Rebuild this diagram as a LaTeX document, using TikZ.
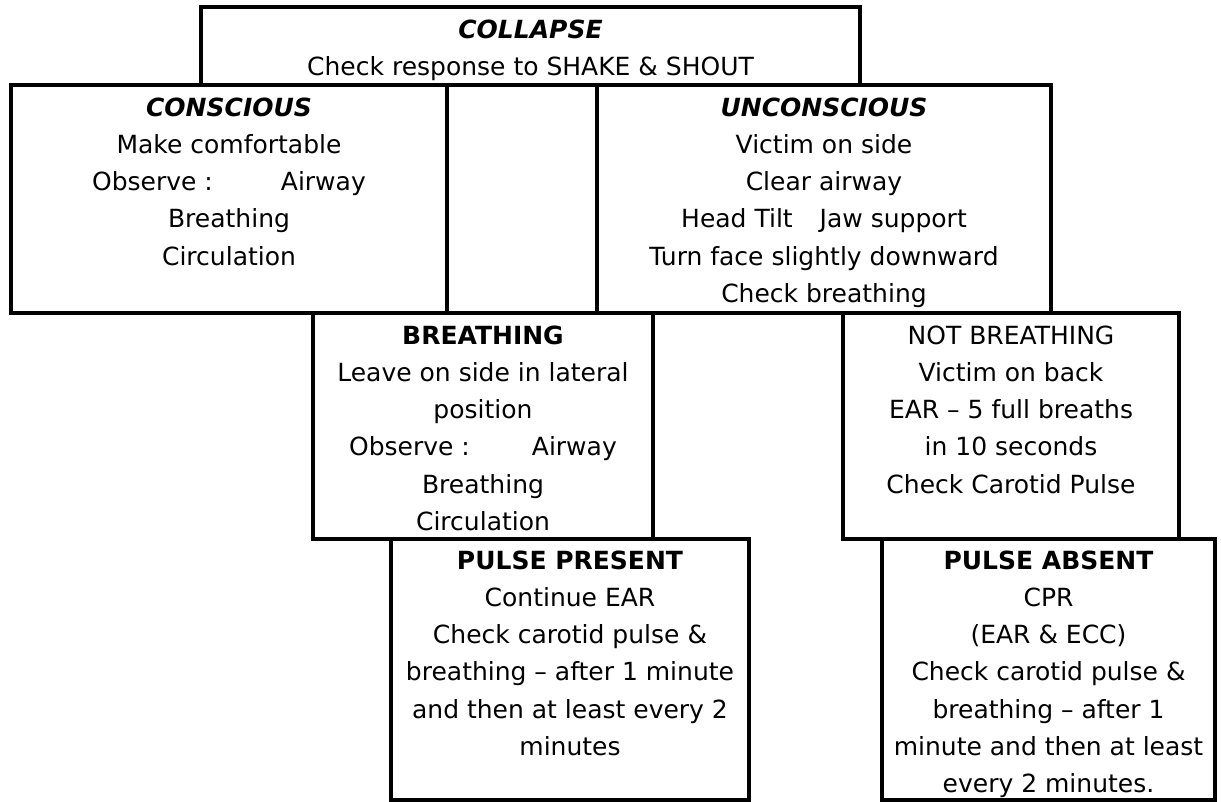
\documentclass[tikz,border=0pt]{standalone}
\usepackage{fontspec}
\setmainfont{DejaVu Sans}
\begin{document}
\begin{tikzpicture}[x=1pt,y=-1pt,
  box/.style={draw=black, line width=4pt, rectangle, inner sep=0pt, outer sep=0pt, anchor=north west},
  txt/.style={align=center, inner sep=0pt, outer sep=0pt, anchor=north, font=\fontsize{25}{37.3}\selectfont},
  ttlbi/.style={},
]
\useasboundingbox (0,0) rectangle (1221,802);
% boxes
\node[box, minimum width=659pt, minimum height=78pt]  (collapse)   at (201,7)   {};
\node[box, minimum width=436pt, minimum height=228pt] (conscious)  at (11,85)   {};
\node[box, minimum width=150pt, minimum height=228pt] (middle)     at (447,85)  {};
\node[box, minimum width=454pt, minimum height=228pt] (unconsc)    at (597,85)  {};
\node[box, minimum width=340pt, minimum height=226pt] (breathing)  at (313,313) {};
\node[box, minimum width=336pt, minimum height=226pt] (notbreath)  at (843,313) {};
\node[box, minimum width=358pt, minimum height=261pt] (present)    at (391,539) {};
\node[box, minimum width=333pt, minimum height=261pt] (absent)     at (882,539) {};
% texts
\node[txt] (collapseT) at ([yshift=-4.9pt]collapse.north)
  {\strut\textbf{\textit{COLLAPSE}}\\Check response to SHAKE \& SHOUT};
\node[txt] (consciousT) at ([yshift=-4.9pt]conscious.north)
  {\strut\textbf{\textit{CONSCIOUS}}\\Make comfortable\\Observe :\hspace{68pt}Airway\\Breathing\\Circulation};
\node[txt] (unconscT) at ([yshift=-4.9pt]unconsc.north)
  {\strut\textbf{\textit{UNCONSCIOUS}}\\Victim on side\\Clear airway\\Head Tilt\hspace{27pt}Jaw support\\Turn face slightly downward\\Check breathing};
\node[txt] (breathingT) at ([yshift=-4.9pt]breathing.north)
  {\strut\textbf{BREATHING}\\Leave on side in lateral\\position\\Observe :\hspace{62pt}Airway\\Breathing\\Circulation};
\node[txt] (notbreathT) at ([yshift=-4.9pt]notbreath.north)
  {\strut NOT BREATHING\\Victim on back\\EAR – 5 full breaths\\in 10 seconds\\Check Carotid Pulse};
\node[txt] (presentT) at ([yshift=-3.9pt]present.north)
  {\strut\textbf{PULSE PRESENT}\\Continue EAR\\Check carotid pulse \&\\breathing – after 1 minute\\and then at least every 2\\minutes};
\node[txt] (absentT) at ([yshift=-3.9pt]absent.north)
  {\strut\textbf{PULSE ABSENT}\\CPR\\(EAR \& ECC)\\Check carotid pulse \&\\breathing – after 1\\minute and then at least\\every 2 minutes.};
\end{tikzpicture}
\end{document}
